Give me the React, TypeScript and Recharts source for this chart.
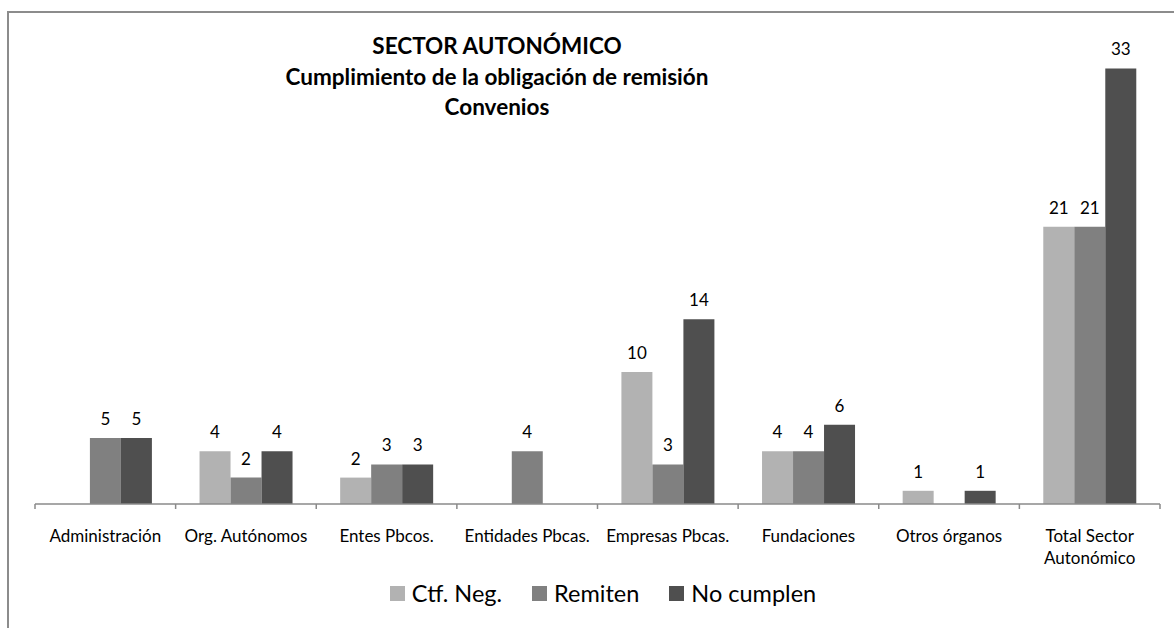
import React from "react";
import { BarChart, Bar, XAxis, YAxis, LabelList, Text } from "recharts";

const categories = [
  "Administración",
  "Org. Autónomos",
  "Entes Pbcos.",
  "Entidades Pbcas.",
  "Empresas Pbcas.",
  "Fundaciones",
  "Otros órganos",
  "Total Sector Autonómico",
];
const ctfNeg = [0, 4, 2, 0, 10, 4, 1, 21];
const remiten = [5, 2, 3, 4, 3, 4, 0, 21];
const noCumplen = [5, 4, 3, 0, 14, 6, 1, 33];

const titleLines = ["SECTOR AUTONÓMICO", "Cumplimiento de la obligación de remisión", "Convenios"];

const series = [
  { key: "ctf", name: "Ctf. Neg.", color: "#b2b2b2" },
  { key: "rem", name: "Remiten", color: "#808080" },
  { key: "noc", name: "No cumplen", color: "#4f4f4f" },
];

const data = categories.map((c, i) => ({
  name: c,
  ctf: ctfNeg[i],
  rem: remiten[i],
  noc: noCumplen[i],
}));

const FONT = "Lato, 'Open Sans', sans-serif";
const W = 1174;
const H = 628;
const M = { top: 42, right: 14, left: 35, bottom: 64 };
const AXIS_H = 60;
const step = (W - M.left - M.right) / categories.length;

// category label plus Excel-style tick marks on the category borders
function CategoryTick(props: any) {
  const { x, y, payload, index } = props;
  const top = y - 8;
  return (
    <g>
      <line x1={x - step / 2} x2={x - step / 2} y1={top} y2={top + 5} stroke="#8a8a8a" strokeWidth={1.5} />
      {index === categories.length - 1 && (
        <line x1={x + step / 2} x2={x + step / 2} y1={top} y2={top + 5} stroke="#8a8a8a" strokeWidth={1.5} />
      )}
      <Text
        x={x}
        y={top + 26}
        width={125}
        textAnchor="middle"
        verticalAnchor="start"
        lineHeight={22}
        style={{ fontSize: 17, fill: "#000", fontFamily: FONT }}
      >
        {payload.value}
      </Text>
    </g>
  );
}

const hideZero = (v: any) => (v === 0 ? "" : v);

export default function App() {
  return (
    <div style={{ position: "fixed", left: 0, top: 0, width: W, height: H, background: "#fff", overflow: "hidden" }}>
      <div
        style={{
          position: "absolute",
          left: 7,
          top: 11,
          width: W,
          height: H,
          borderTop: "2px solid #8c8c8c",
          borderLeft: "2px solid #8c8c8c",
        }}
      />
      <div
        style={{
          position: "absolute",
          left: 97,
          width: 800,
          top: 31,
          textAlign: "center",
          fontFamily: FONT,
          fontWeight: 700,
          fontSize: 22.5,
          lineHeight: "30.5px",
          color: "#000",
        }}
      >
        {titleLines.map((t) => (
          <div key={t} style={{ whiteSpace: "nowrap" }}>
            {t}
          </div>
        ))}
      </div>
      <div style={{ position: "absolute", left: 0, top: 0 }}>
        <BarChart width={W} height={H} data={data} margin={M} barCategoryGap="17%" barGap={0}>
          <XAxis
            dataKey="name"
            interval={0}
            height={AXIS_H}
            axisLine={{ stroke: "#8a8a8a", strokeWidth: 1.5 }}
            tickLine={false}
            tick={<CategoryTick />}
          />
          <YAxis hide domain={[0, 35]} />
          {series.map((s) => (
            <Bar key={s.key} dataKey={s.key} name={s.name} fill={s.color} isAnimationActive={false}>
              <LabelList
                dataKey={s.key}
                position="top"
                offset={13}
                formatter={hideZero}
                style={{ fontSize: 17, fill: "#000", fontFamily: FONT }}
              />
            </Bar>
          ))}
        </BarChart>
      </div>
      <div
        style={{
          position: "absolute",
          top: 579,
          left: 3,
          width: 1200,
          display: "flex",
          justifyContent: "center",
          gap: 30,
          fontFamily: FONT,
          fontSize: 23.5,
          color: "#000",
        }}
      >
        {series.map((s) => (
          <div key={s.key} style={{ display: "flex", alignItems: "center", gap: 7 }}>
            <span style={{ width: 15, height: 15, background: s.color, display: "inline-block" }} />
            <span>{s.name}</span>
          </div>
        ))}
      </div>
    </div>
  );
}
